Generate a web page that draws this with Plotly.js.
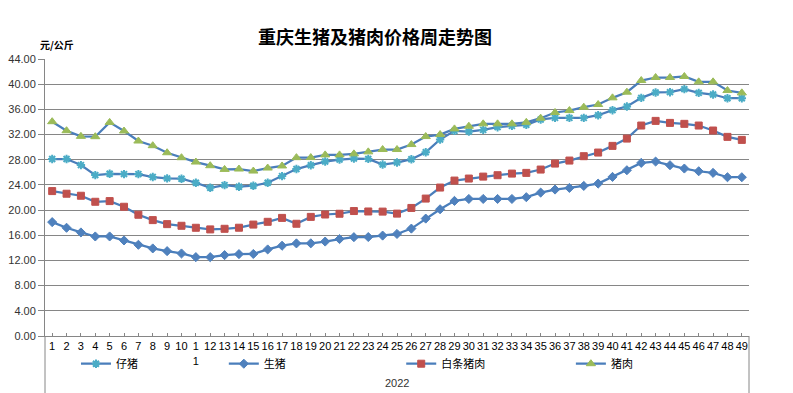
<!DOCTYPE html>
<html>
<head>
<meta charset="utf-8">
<script src="https://cdn.plot.ly/plotly-3.0.1.min.js"></script>
<style>html,body{margin:0;padding:0;background:#fff;}#chart{width:793px;height:393px;}</style>
</head>
<body>
<div id="chart"></div>
<script>
// Week numbers (categories)
const weeks = [1,2,3,4,5,6,7,8,9,10,11,12,13,14,15,16,17,18,19,20,21,22,23,24,25,26,27,28,29,30,31,32,33,34,35,36,37,38,39,40,41,42,43,44,45,46,47,48,49];
const weekLabels = ["1","2","3","4","5","6","7","8","9","10","1<br>1","12","13","14","15","16","17","18","19","20","21","22","23","24","25","26","27","28","29","30","31","32","33","34","35","36","37","38","39","40","41","42","43","44","45","46","47","48","49"];
const yearLabel = "2022";

// 仔猪 (piglet)
const piglet = [28.11,28.11,27.15,25.56,25.77,25.72,25.72,25.25,25.03,24.98,24.34,23.55,23.97,23.71,23.87,24.34,25.40,26.52,27.13,27.71,28.03,28.19,28.13,27.23,27.55,28.08,29.19,31.21,32.58,32.48,32.74,33.17,33.38,33.54,34.40,34.65,34.65,34.65,35.07,35.87,36.45,37.83,38.68,38.73,39.21,38.62,38.36,37.77,37.77];
// 生猪 (live hog)
const liveHog = [18.09,17.19,16.45,15.81,15.81,15.18,14.49,13.91,13.48,13.11,12.53,12.53,12.85,13.01,13.03,13.75,14.34,14.71,14.72,15.00,15.40,15.70,15.72,15.95,16.21,17.06,18.65,20.13,21.46,21.77,21.77,21.77,21.77,22.05,22.78,23.26,23.52,23.84,24.21,25.27,26.33,27.50,27.71,27.13,26.60,26.17,25.91,25.22,25.22];
// 白条猪肉 (carcass pork)
const carcass = [23.02,22.60,22.28,21.32,21.43,20.53,19.26,18.41,17.77,17.51,17.19,16.93,17.03,17.20,17.70,18.14,18.76,17.83,18.92,19.30,19.42,19.85,19.78,19.76,19.44,20.34,21.83,23.58,24.69,25.01,25.32,25.54,25.80,25.91,26.44,27.39,27.87,28.56,29.14,30.20,31.36,33.43,34.17,33.85,33.70,33.43,32.64,31.63,31.15];
// 猪肉 (pork)
const pork = [34.04,32.61,31.71,31.66,33.93,32.56,30.97,30.23,29.11,28.32,27.63,27.05,26.46,26.52,26.20,26.68,27.01,28.33,28.34,28.77,28.77,28.93,29.25,29.62,29.62,30.41,31.68,32.00,32.90,33.32,33.70,33.70,33.70,33.94,34.60,35.50,35.81,36.34,36.77,37.83,38.73,40.58,41.06,41.06,41.22,40.37,40.37,38.99,38.62];

const yTicks = [0,4,8,12,16,20,24,28,32,36,40,44];

const lineColor = '#4A7EBB';
const cjk = '"Noto Sans CJK SC", sans-serif';

function mk(name, y, symbol, color, size, legendId, lw) {
  return {
    type: 'scatter', mode: 'lines+markers', name: name, x: weeks, y: y,
    line: {color: lineColor, width: 2.25},
    marker: {symbol: symbol, color: color, size: size, line: {color: color, width: lw || 1}},
    legend: legendId
  };
}

const traces = [
  mk('仔猪', piglet, 'asterisk-open', '#4BACC6', 7, 'legend', 2),
  mk('生猪', liveHog, 'diamond', '#4F81BD', 7, 'legend2'),
  mk('白条猪肉', carcass, 'square', '#C0504D', 7, 'legend3'),
  mk('猪肉', pork, 'triangle-up', '#9BBB59', 8, 'legend4')
];

const legFont = {family: cjk, size: 11, color: '#000'};
function leg(x) {
  return {x: x, y: -0.1, xanchor: 'left', yanchor: 'middle', orientation: 'h', font: legFont, bgcolor: 'rgba(0,0,0,0)', itemwidth: 30, tracegroupgap: 0};
}

const layout = {
  width: 793, height: 393,
  margin: {l: 45, r: 44, t: 59, b: 57, pad: 0},
  paper_bgcolor: '#ffffff', plot_bgcolor: '#ffffff',
  font: {family: '"Liberation Sans", Arial, sans-serif', size: 10, color: '#333'},
  title: {text: '<b>重庆生猪及猪肉价格周走势图</b>', x: 375/793, xref: 'container', xanchor: 'center', y: 1 - 38/393, yref: 'container', yanchor: 'middle', font: {family: cjk, size: 18, color: '#000'}},
  xaxis: {
    range: [0.5, 49.5], tickmode: 'array', tickvals: weeks, ticktext: weekLabels,
    ticks: 'inside', ticklen: 3, tickcolor: '#868686', showgrid: false, zeroline: false,
    showline: true, linecolor: '#868686', linewidth: 1,
    tickfont: {family: '"Liberation Sans", Arial, sans-serif', size: 11, color: '#000'}, tickangle: 0
  },
  yaxis: {
    range: [0, 44], tickmode: 'array', tickvals: yTicks, tickformat: '.2f',
    ticks: 'outside', ticklen: 6, tickcolor: '#868686',
    showgrid: true, gridcolor: '#868686', gridwidth: 1, zeroline: false,
    showline: true, linecolor: '#868686', linewidth: 1,
    tickfont: {family: '"Liberation Sans", Arial, sans-serif', size: 11, color: '#333'}
  },
  showlegend: true,
  legend: leg(0.044),
  legend2: leg(0.254),
  legend3: leg(0.506),
  legend4: leg(0.747),
  shapes: [
    {type: 'line', xref: 'paper', yref: 'paper', x0: 0, x1: 0, y0: -0.21, y1: 0, line: {color: '#868686', width: 1}},
    {type: 'line', xref: 'paper', yref: 'paper', x0: 1, x1: 1, y0: -0.21, y1: 0, line: {color: '#868686', width: 1}}
  ],
  annotations: [
    {text: '<b>元/公斤</b>', xref: 'paper', yref: 'paper', x: (57-45)/704, y: (335.6-45)/276.6, xanchor: 'center', yanchor: 'middle', showarrow: false, font: {family: cjk, size: 10, color: '#000'}},
    {text: yearLabel, xref: 'paper', yref: 'paper', x: 0.5, y: -0.171, xanchor: 'center', yanchor: 'middle', showarrow: false, font: {family: '"Liberation Sans", Arial, sans-serif', size: 11, color: '#333'}}
  ]
};

Plotly.newPlot('chart', traces, layout, {displayModeBar: false, staticPlot: true});
</script>
</body>
</html>
